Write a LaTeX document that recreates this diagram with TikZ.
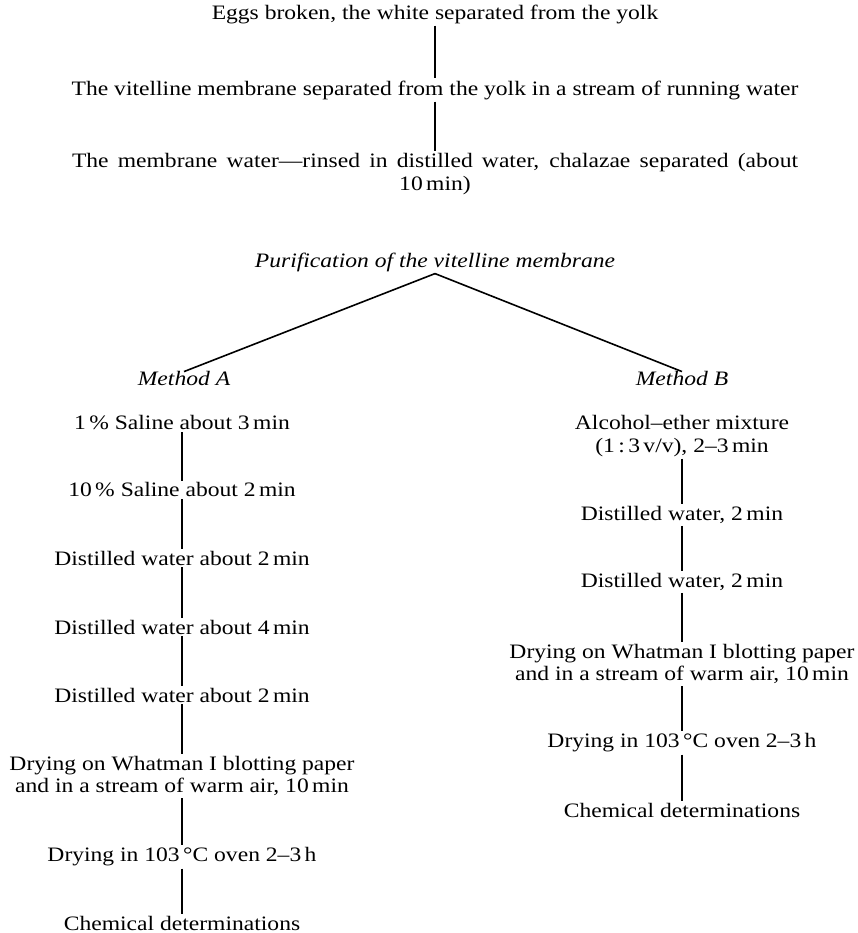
\documentclass[tikz,border=0pt]{standalone}
\usepackage{fontspec}
\setmainfont{Liberation Serif}[FakeStretch=1.15]
\tikzset{
  stage/.style={align=center, inner sep=2pt, font=\fontsize{20.5}{22.5}\selectfont},
  method/.style={stage, font=\fontsize{20.5}{22.5}\selectfont\itshape},
  link/.style={line width=1.6pt}
}
\begin{document}
\begin{tikzpicture}[x=1pt, y=-1pt]
  \useasboundingbox (0,0) rectangle (857,933);
  % preparation
  \node[stage] (eggs) at (435,14) {Eggs broken, the white separated from the yolk};
  \node[stage] (sep) at (435,90) {The vitelline membrane separated from the yolk in a stream of running water};
  \node[stage] (rinse) at (435,174) {\makebox[726pt][s]{The membrane water---rinsed in distilled water, chalazae separated (about}\\10\,min)};
  \draw[link] (eggs) -- (sep);
  \draw[link] (sep) -- (rinse);
  % purification
  \node[method] (purif) at (435,262) {Purification of the vitelline membrane};
  \node[method] (methA) at (184,378) {Method A};
  \node[method] (methB) at (682,378) {Method B};
  \draw[link] (purif.south) -- ([yshift=-3pt]methA.north);
  \draw[link] (purif.south) -- ([yshift=-3pt]methB.north);
  % method A
  \node[stage] (a1) at (182,423) {1\,\% Saline about 3\,min};
  \node[stage] (a2) at (182,490) {10\,\% Saline about 2\,min};
  \node[stage] (a3) at (182,558) {Distilled water about 2\,min};
  \node[stage] (a4) at (182,627) {Distilled water about 4\,min};
  \node[stage] (a5) at (182,695) {Distilled water about 2\,min};
  \node[stage] (a6) at (182,776) {Drying on Whatman I blotting paper\\and in a stream of warm air, 10\,min};
  \node[stage] (a7) at (182,857) {Drying in 103\,°C oven 2--3\,h};
  \node[stage] (a8) at (182,923) {Chemical determinations};
  \draw[link] (a1) -- (a2);
  \draw[link] (a2) -- (a3);
  \draw[link] (a3) -- (a4);
  \draw[link] (a4) -- (a5);
  \draw[link] (a5) -- (a6);
  \draw[link] (a6) -- (a7);
  \draw[link] (a7) -- (a8);
  % method B
  \node[stage] (b1) at (682,436) {Alcohol--ether mixture\\(1\,:\,3\,v/v), 2--3\,min};
  \node[stage] (b2) at (682,515) {Distilled water, 2\,min};
  \node[stage] (b3) at (682,582) {Distilled water, 2\,min};
  \node[stage] (b4) at (682,664) {Drying on Whatman I blotting paper\\and in a stream of warm air, 10\,min};
  \node[stage] (b5) at (682,743) {Drying in 103\,°C oven 2--3\,h};
  \node[stage] (b6) at (682,810) {Chemical determinations};
  \draw[link] (b1) -- (b2);
  \draw[link] (b2) -- (b3);
  \draw[link] (b3) -- (b4);
  \draw[link] (b4) -- (b5);
  \draw[link] (b5) -- (b6);
\end{tikzpicture}
\end{document}
